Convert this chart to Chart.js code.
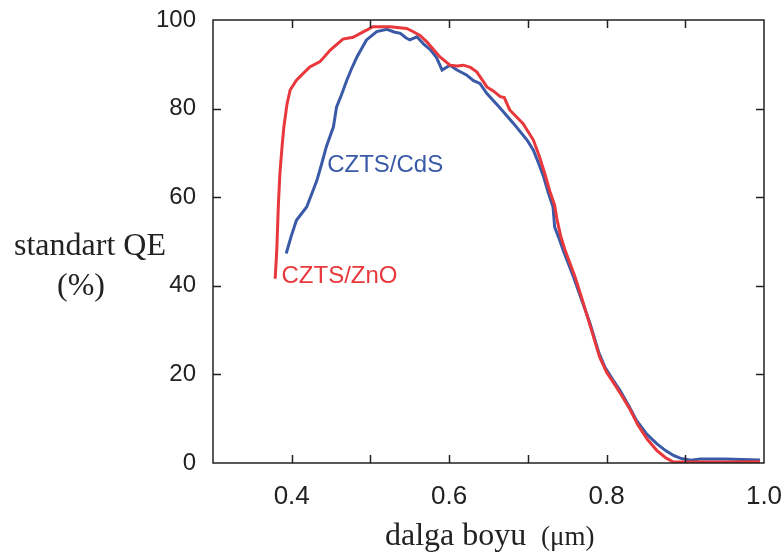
<!DOCTYPE html>
<html>
<head>
<meta charset="utf-8">
<script src="https://cdn.jsdelivr.net/npm/chart.js@4.4.1/dist/chart.umd.min.js"></script>
<style>
  html, body { margin: 0; padding: 0; background: #fff; }
  #wrap { width: 784px; height: 557px; position: relative; }
</style>
</head>
<body>
<div id="wrap"><canvas id="qe"></canvas></div>
<script>
// wavelength (um) and standard QE (%)
const znoX = [0.379, 0.381, 0.383, 0.385, 0.388, 0.390, 0.394, 0.398, 0.406, 0.415, 0.423, 0.436, 0.449, 0.465, 0.478, 0.495, 0.503, 0.525, 0.546, 0.554, 0.563, 0.572, 0.588, 0.601, 0.610, 0.618, 0.627, 0.635, 0.642, 0.648, 0.656, 0.665, 0.670, 0.677, 0.694, 0.707, 0.715, 0.722, 0.728, 0.734, 0.737, 0.742, 0.747, 0.760, 0.768, 0.780, 0.791, 0.800, 0.810, 0.819, 0.830, 0.840, 0.852, 0.864, 0.875, 0.885, 0.920, 0.960, 0.995]
const znoY = [41.6, 48, 58, 65.4, 72, 75.8, 81, 84.2, 86.4, 88, 89.4, 90.6, 93.2, 95.7, 96.1, 97.7, 98.5, 98.5, 98.1, 97.4, 96.5, 95, 91.7, 89.8, 89.6, 89.8, 89.3, 88.3, 86.5, 84.9, 84, 82.7, 82.5, 79.7, 76.6, 72.9, 69, 65, 61.3, 58.2, 55, 51, 48.2, 42, 37.5, 30.5, 24, 20.5, 17.8, 15.3, 12, 8.5, 5.3, 2.8, 1.2, 0.2, 0.2, 0.2, 0.3]

const cdsX = [0.393, 0.399, 0.406, 0.419, 0.426, 0.432, 0.438, 0.444, 0.453, 0.457, 0.463, 0.470, 0.476, 0.483, 0.495, 0.508, 0.521, 0.530, 0.538, 0.545, 0.550, 0.559, 0.568, 0.576, 0.584, 0.591, 0.601, 0.610, 0.622, 0.631, 0.639, 0.648, 0.665, 0.682, 0.699, 0.707, 0.714, 0.720, 0.726, 0.732, 0.734, 0.740, 0.745, 0.758, 0.766, 0.779, 0.790, 0.798, 0.808, 0.817, 0.828, 0.838, 0.851, 0.864, 0.875, 0.885, 0.895, 0.907, 0.919, 0.950, 0.995]
const cdsY = [47.3, 51, 54.8, 57.8, 61, 63.8, 67.5, 71.4, 75.9, 80.4, 83, 86.4, 89, 91.7, 95.5, 97.4, 97.9, 97.3, 97, 96, 95.5, 96.2, 94.5, 93.3, 91.5, 88.7, 89.8, 88.7, 87.6, 86.3, 85.7, 83.4, 80.1, 76.6, 72.9, 70.6, 67.5, 64.6, 61, 57.8, 53.3, 50.5, 48, 42, 38, 31.5, 25, 21.6, 18.8, 16.4, 13, 9.6, 6.5, 4.3, 2.8, 1.7, 1, 0.6, 0.9, 0.9, 0.7]

const xTicks = [0.4, 0.6, 0.8, 1.0]
const yTicks = [0, 20, 40, 60, 80, 100]

const RED = '#e8383c'
const BLUE = '#3a5aa8'
const INK = '#222'

function pts(xs, ys) {
    return xs.map((x, i) => ({x: x, y: ys[i]}))
}

// frame, inward ticks, axis titles, curve labels
const decor = {
    id: 'decor',
    afterDraw(chart) {
        const c = chart.ctx
        const a = chart.chartArea
        const xs = chart.scales.x, ys = chart.scales.y
        c.save()
        c.strokeStyle = INK
        c.lineWidth = 1.5
        c.strokeRect(a.left, a.top, a.right - a.left, a.bottom - a.top)
        c.beginPath()
        xs.ticks.forEach(t => {
            const px = Math.round(xs.getPixelForValue(t.value)) + 0.5
            if (px <= a.left + 1 || px >= a.right - 1) return
            c.moveTo(px, a.bottom); c.lineTo(px, a.bottom - 8)
            c.moveTo(px, a.top); c.lineTo(px, a.top + 8)
        })
        ys.ticks.forEach(t => {
            const py = Math.round(ys.getPixelForValue(t.value)) + 0.5
            if (py <= a.top + 1 || py >= a.bottom - 1) return
            c.moveTo(a.left, py); c.lineTo(a.left + 8, py)
            c.moveTo(a.right, py); c.lineTo(a.right - 8, py)
        })
        c.stroke()

        c.fillStyle = INK
        c.textBaseline = 'alphabetic'
        c.textAlign = 'center'
        c.font = '32px "Liberation Serif", serif'
        c.fillText('standart QE', 90, 255)
        c.fillText('(%)', 81, 295)

        c.textAlign = 'left'
        c.font = '32px "Liberation Serif", serif'
        c.fillText('dalga boyu', 385, 545)
        c.font = '27px "Liberation Serif", serif'
        c.fillText('(\u03bcm)', 541, 545)

        c.font = '24px "Liberation Sans", Arial, sans-serif'
        c.fillStyle = BLUE
        c.fillText('CZTS/CdS', xs.getPixelForValue(0.445), ys.getPixelForValue(65.6))
        c.fillStyle = RED
        c.fillText('CZTS/ZnO', xs.getPixelForValue(0.387), ys.getPixelForValue(40.6))
        c.restore()
    }
}

new Chart(document.getElementById('qe'), {
    type: 'line',
    data: {
        datasets: [
            {label: 'CZTS/ZnO', data: pts(znoX, znoY), borderColor: RED, borderWidth: 3, pointRadius: 0, tension: 0, fill: false},
            {label: 'CZTS/CdS', data: pts(cdsX, cdsY), borderColor: BLUE, borderWidth: 3, pointRadius: 0, tension: 0, fill: false}
        ]
    },
    options: {
        responsive: true,
        maintainAspectRatio: false,
        animation: false,
        layout: {padding: {top: 20, right: 20, left: 0, bottom: 0}},
        plugins: {legend: {display: false}, tooltip: {enabled: false}},
        scales: {
            x: {
                type: 'linear', min: 0.3, max: 1.0,
                afterFit: s => { s.height = 94; s.paddingLeft = 0; s.paddingRight = 0 },
                grid: {display: false},
                border: {display: false},
                ticks: {
                    stepSize: 0.1, padding: 10, color: INK,
                    font: {family: '"Liberation Sans", Arial, sans-serif', size: 26},
                    callback: v => xTicks.some(t => Math.abs(t - v) < 1e-6) ? v.toFixed(1) : ''
                }
            },
            y: {
                min: 0, max: 100,
                afterFit: s => { s.width = 213; s.paddingTop = 0; s.paddingBottom = 0 },
                grid: {display: false},
                border: {display: false},
                ticks: {
                    stepSize: 20, padding: 9, color: INK,
                    font: {family: '"Liberation Sans", Arial, sans-serif', size: 24},
                    callback: v => yTicks.includes(v) ? String(v) : ''
                }
            }
        }
    },
    plugins: [decor]
})
</script>
</body>
</html>
